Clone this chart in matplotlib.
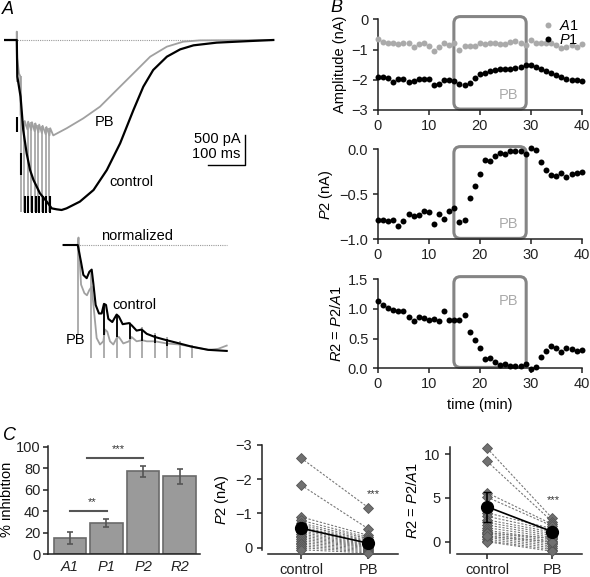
import numpy as np
import matplotlib
matplotlib.use('Agg')
import matplotlib.pyplot as plt
import matplotlib.transforms as mtransforms
from matplotlib.patches import FancyBboxPatch

plt.rcParams['font.family'] = ['Liberation Sans', 'DejaVu Sans']
plt.rcParams['mathtext.fontset'] = 'custom'
plt.rcParams['mathtext.rm'] = 'Liberation Sans'
plt.rcParams['mathtext.it'] = 'Liberation Sans:italic'
plt.rcParams['font.size'] = 10.5
plt.rcParams['axes.linewidth'] = 1.1
plt.rcParams['axes.edgecolor'] = '#222222'
for a in ('xtick', 'ytick'):
    plt.rcParams[a + '.major.size'] = 3.5
    plt.rcParams[a + '.major.width'] = 1.1
    plt.rcParams[a + '.color'] = '#222222'

FS = 10.5

# ---------------- data ----------------
# A: example traces (time in ms, current in pA)
pulse_t = [2, 12, 21, 31, 40, 50, 59, 69, 78, 88]
ctrl_t = [-31, 2, 3.5, 12, 19, 28, 37, 46, 63, 81, 94, 107, 120, 133, 168, 204, 239,
          274, 309, 335, 361, 397, 432, 467, 528, 616, 677]
ctrl_pA = [0, 0, -611, -944, -1500, -1889, -2167, -2333, -2556, -2694, -2806, -2822, -2833,
           -2806, -2694, -2500, -2167, -1722, -1167, -778, -500, -278, -156, -89, -44, -17, 0]
pb_t = [-31, 2, 2, 3, 8, 11, 12, 14, 17, 21, 23, 30, 32, 40, 42, 49, 51, 59, 61, 68, 70,
        78, 80, 88, 90, 98, 133, 177, 221, 265, 309, 353, 397, 440, 484, 677]
pb_pA = [0, 0, 140, -300, -560, -600, -1250, -1300, -1420, -1480, -1350, -1490, -1360, -1500,
         -1370, -1520, -1390, -1540, -1410, -1550, -1430, -1570, -1450, -1590, -1470, -1590,
         -1472, -1306, -1111, -833, -556, -278, -111, -28, -6, 0]
pb_art_top = [140, -600, -1350, -1360, -1370, -1390, -1410, -1430, -1450, -1470]
pb_art_bot = [-700, -2860, -2860, -2860, -2860, -2860, -2860, -2860, -2860, -2860]
ctrl_art_top = [-1280, -1890, -2600, -2600, -2600, -2600, -2600, -2600, -2600, -2600]
ctrl_art_bot = [-1530, -2250, -2880, -2880, -2880, -2880, -2880, -2880, -2880, -2880]

# A lower: normalized traces
npulse_t = [0, 10, 20, 30, 40, 50, 60, 69, 79, 89]
nctrl_t = [-11.6, -0.6, 2.0, 3.8, 6.4, 8.5, 10.3, 11.6, 13.4, 16.0, 18.1, 19.9, 21.5, 23.3,
           26.4, 29.8, 31.6, 34.5, 39.5, 41.5, 45.4, 49.4, 53.3, 59.8, 68.9, 78.8, 88.4,
           101.4, 115.8]
nctrl_a = [0, 0, -0.16, -0.28, -0.31, -0.25, -0.23, -0.36, -0.56, -0.64, -0.64, -0.55, -0.56,
           -0.69, -0.72, -0.65, -0.67, -0.74, -0.73, -0.75, -0.80, -0.79, -0.83, -0.86, -0.89,
           -0.92, -0.95, -0.98, -0.99]
npb_t = [-11.6, -0.6, 0.0, 2.0, 4.6, 6.6, 8.5, 10.3, 12.4, 14.2, 16.8, 19.4, 20.7, 22.5, 24.6,
         27.2, 29.8, 31.6, 35.0, 39.5, 41.5, 45.4, 49.9, 53.3, 59.8, 68.9, 78.8, 88.4, 101.4,
         109.2, 115.8]
npb_a = [0, 0, 0.07, -0.37, -0.45, -0.47, -0.42, -0.39, -0.65, -0.87, -0.93, -0.90, -0.79,
         -0.81, -0.90, -0.93, -0.87, -0.86, -0.92, -0.90, -0.86, -0.90, -0.89, -0.90, -0.90,
         -0.92, -0.93, -0.95, -0.98, -0.97, -0.94]
npb_art_top = [0.0, -0.25, -0.55, -0.65, -0.72, -0.77, -0.82, -0.86, -0.90, -0.93]
npb_art_bot = [-0.84, -1.06, -1.06, -1.06, -1.06, -1.06, -1.06, -1.06, -1.06, -1.06]
nctrl_art_t = [20, 30, 40, 50, 60, 69]
nctrl_art_top = [-0.55, -0.65, -0.73, -0.79, -0.84, -0.88]
nctrl_art_bot = [-0.84, -0.86, -0.88, -0.90, -0.92, -0.94]

# B: time course (min)
time_min = list(range(41))
amp_A1 = [-0.66, -0.74, -0.77, -0.79, -0.83, -0.79, -0.79, -0.90, -0.82, -0.79, -0.88, -1.04,
          -0.93, -0.79, -0.85, -0.77, -1.01, -0.88, -0.88, -0.88, -0.79, -0.83, -0.77, -0.79,
          -0.82, -0.82, -0.74, -0.71, -0.77, -0.85, -0.68, -0.77, -0.77, -0.79, -0.79, -0.85,
          -0.96, -0.90, -0.85, -0.90, -0.83]
amp_P1 = [-1.90, -1.90, -1.95, -2.06, -1.98, -1.96, -2.09, -2.03, -1.97, -1.96, -1.96, -2.18,
          -2.14, -2.01, -2.01, -2.04, -2.15, -2.17, -2.12, -1.93, -1.81, -1.79, -1.71, -1.68,
          -1.63, -1.63, -1.65, -1.62, -1.57, -1.52, -1.52, -1.59, -1.65, -1.71, -1.76, -1.84,
          -1.92, -1.98, -2.01, -2.01, -2.03]
amp_P2 = [-0.78, -0.78, -0.80, -0.78, -0.85, -0.80, -0.72, -0.74, -0.73, -0.68, -0.70, -0.83,
          -0.72, -0.77, -0.68, -0.65, -0.81, -0.78, -0.54, -0.41, -0.27, -0.12, -0.13, -0.07,
          -0.04, -0.05, -0.02, -0.02, -0.02, -0.05, 0.02, -0.01, -0.14, -0.23, -0.29, -0.30,
          -0.26, -0.31, -0.27, -0.26, -0.25]
ratio_R2 = [1.13, 1.07, 1.01, 0.98, 0.97, 0.97, 0.87, 0.80, 0.87, 0.84, 0.81, 0.83, 0.79, 0.97,
            0.81, 0.81, 0.82, 0.89, 0.62, 0.48, 0.35, 0.16, 0.17, 0.10, 0.06, 0.07, 0.04, 0.04,
            0.04, 0.07, -0.02, 0.02, 0.19, 0.30, 0.38, 0.35, 0.28, 0.35, 0.33, 0.30, 0.31]
pb_start, pb_end = 14.9, 29.1

# C: summary
bar_cats = ['A1', 'P1', 'P2', 'R2']
inhib = [15, 29, 77, 72.5]
inhib_sem = [5.4, 4.0, 5.0, 6.8]
pair_cats = ['control', 'PB']
ctrl_p2 = [-2.62, -1.83, -0.90, -0.80, -0.72, -0.66, -0.60, -0.55, -0.50, -0.45, -0.40, -0.35,
           -0.30, -0.25, -0.20, -0.15, -0.10, -0.05, 0.0, 0.06]
pb_p2 = [-1.17, -0.55, -0.36, -0.30, -0.26, -0.22, -0.19, -0.16, -0.13, -0.10, -0.08, -0.06,
         -0.04, -0.02, 0.0, 0.03, 0.06, 0.09, 0.12, 0.15]
p2_mean = [-0.57, -0.13]
p2_sem = [0.14, 0.07]
ctrl_r2 = [10.7, 9.2, 5.6, 5.1, 3.3, 2.9, 2.5, 2.2, 1.9, 1.6, 1.3, 1.1, 0.9, 0.7, 0.5, 0.3, 0.1,
           0.0, 1.0, 0.6]
pb_r2 = [2.7, 2.3, 2.0, 1.8, 1.5, 1.3, 1.1, 0.9, 0.7, 0.5, 0.3, 0.1, -0.1, -0.3, -0.5, -0.7,
         -0.9, -1.1, 0.4, 0.0]
r2_mean = [4.0, 1.15]
r2_sem = [1.7, 0.3]

GRAY = '#a0a0a0'
W, H = 590, 577
fig = plt.figure(figsize=(W / 100, H / 100), dpi=100)


def px_axes(l, t, r, b):
    return fig.add_axes([l / W, 1 - b / H, (r - l) / W, (b - t) / H])


# ---------------- A top ----------------
axA = px_axes(4, 30, 280, 220)
axA.set_xlim(-31.6, 694.7)
axA.set_ylim(-3000, 166.7)
axA.axis('off')
axA.plot([-31, 677], [0, 0], color='#999999', ls=(0, (1, 1)), lw=0.8)
axA.vlines(pulse_t, pb_art_bot, pb_art_top, color=GRAY, lw=1.2)
axA.plot(pb_t, pb_pA, color=GRAY, lw=1.3)
axA.plot(ctrl_t, ctrl_pA, color='k', lw=1.6)
axA.vlines(np.array(pulse_t) + 1.5, ctrl_art_bot, ctrl_art_top, color='k', lw=1.5)
axA.plot([504, 603, 603], [-2083, -2083, -1583], color='k', lw=1.0)
axA.text(590, -1656, '500 pA', ha='right', va='center', fontsize=FS)
axA.text(590, -1900, '100 ms', ha='right', va='center', fontsize=FS)
axA.text(232, -1361, 'PB', ha='center', va='center', fontsize=FS)
axA.text(304, -2361, 'control', ha='center', va='center', fontsize=FS)

# ---------------- A bottom ----------------
axN = px_axes(60, 230, 235, 365)
axN.set_xlim(-14.45, 122.27)
axN.set_ylim(-1.1215, 0.1402)
axN.axis('off')
axN.plot([-11.6, 115.8], [0, 0], color='#999999', ls=(0, (1, 1)), lw=0.8)
axN.vlines(npulse_t, npb_art_bot, npb_art_top, color=GRAY, lw=1.2)
axN.plot(npb_t, npb_a, color=GRAY, lw=1.3)
axN.plot(nctrl_t, nctrl_a, color='k', lw=1.5)
axN.vlines(nctrl_art_t, nctrl_art_bot, nctrl_art_top, color='k', lw=1.3)
axN.text(45.7, 0.084, 'normalized', ha='center', va='center', fontsize=FS)
axN.text(43.4, -0.56, 'control', ha='center', va='center', fontsize=FS)
axN.text(-2.2, -0.89, 'PB', ha='center', va='center', fontsize=FS)

# ---------------- B ----------------
axB1 = px_axes(378, 19.3, 581.7, 110)
axB2 = px_axes(378, 149.3, 581.7, 239.3)
axB3 = px_axes(378, 279.3, 581.7, 368.3)


def pb_box(ax, ytext):
    bb = ax.get_position()
    wpx, hpx = bb.width * W, bb.height * H
    x0, x1 = ax.get_xlim()
    aspect = (wpx / (x1 - x0)) / hpx
    trans = mtransforms.blended_transform_factory(ax.transData, ax.transAxes)
    box = FancyBboxPatch((pb_start, 0.01), pb_end - pb_start, 1.02,
                         boxstyle='round,pad=0,rounding_size=1.3', mutation_aspect=aspect,
                         transform=trans, fill=False, ec='#858585', lw=2.2, clip_on=False,
                         zorder=1)
    ax.add_patch(box)
    ax.text(25.6, ytext, 'PB', transform=trans, ha='center', va='center',
            color='#aaaaaa', fontsize=FS)


for ax in (axB1, axB2, axB3):
    ax.set_xlim(0, 40)
    ax.set_xticks([0, 10, 20, 30, 40])
    for s in ('top', 'right'):
        ax.spines[s].set_visible(False)
    ax.tick_params(axis='x', pad=3)

axB1.set_ylim(-3, 0)
axB1.set_yticks([0, -1, -2, -3])
axB1.set_yticklabels(['0', '\u22121', '\u22122', '\u22123'])
pb_box(axB1, 0.17)
axB1.plot(time_min, amp_A1, 'o', color='#aaaaaa', ms=4.3, mec='none', clip_on=False,
          zorder=3, label=r'$A$1')
axB1.plot(time_min, amp_P1, 'o', color='k', ms=4.3, mec='none', clip_on=False, zorder=3,
          label=r'$P$1')
axB1.legend(loc='upper right', bbox_to_anchor=(1.02, 1.08), frameon=False, handlelength=0.8,
            handletextpad=0.3, labelspacing=0.0, borderpad=0, fontsize=FS)
axB1.set_ylabel('Amplitude (nA)', labelpad=3)

axB2.set_ylim(-1, 0)
axB2.set_yticks([0, -0.5, -1.0])
axB2.set_yticklabels(['0.0', '\u22120.5', '\u22121.0'])
pb_box(axB2, 0.17)
axB2.plot(time_min, amp_P2, 'o', color='k', ms=4.3, mec='none', clip_on=False, zorder=3)
axB2.set_ylabel(r'$P$2 (nA)', labelpad=3)

axB3.set_ylim(0, 1.5)
axB3.set_yticks([0, 0.5, 1.0, 1.5])
axB3.set_yticklabels(['0.0', '0.5', '1.0', '1.5'])
pb_box(axB3, 0.76)
axB3.plot(time_min, ratio_R2, 'o', color='k', ms=4.3, mec='none', clip_on=False, zorder=3)
axB3.set_ylabel(r'$R$2 = $P$2/$A$1', labelpad=3)
axB3.set_xlabel('time (min)', labelpad=5)

# ---------------- C bars ----------------
axC1 = px_axes(48, 445.7, 200, 554)
xb = np.arange(len(bar_cats))
axC1.bar(xb, inhib, width=0.88, color='#9a9a9a', edgecolor='#6a6a6a', lw=1.2, zorder=2)
axC1.errorbar(xb, inhib, yerr=inhib_sem, fmt='none', ecolor='#555555', elinewidth=1.2,
              capsize=2.5, capthick=1.2, zorder=3)
axC1.set_xlim(-0.6, 3.56)
axC1.set_ylim(0, 101)
axC1.set_yticks([0, 20, 40, 60, 80, 100])
axC1.set_xticks(xb)
axC1.set_xticklabels(bar_cats, fontstyle='italic')
axC1.tick_params(axis='x', length=0, pad=4)
axC1.tick_params(axis='y', pad=2)
for s in ('top', 'right'):
    axC1.spines[s].set_visible(False)
axC1.set_ylabel('% inhibition')
axC1.yaxis.set_label_coords(-0.225, 0.5)
axC1.plot([0, 1.02], [40, 40], color='#555555', lw=1.5)
axC1.plot([0.47, 2.01], [89.8, 89.8], color='#555555', lw=1.5)
axC1.text(0.62, 46, '**', ha='center', va='baseline', fontsize=8, color='#333333')
axC1.text(1.32, 95.4, '***', ha='center', va='baseline', fontsize=8, color='#333333')


def paired(ax, c, p, m, e):
    for a, b in zip(c, p):
        ax.plot([0, 1], [a, b], color='#777777', ls=(0, (2, 1.5)), lw=0.8, zorder=2,
                clip_on=False)
    ax.plot(np.zeros(len(c)), c, 'D', ms=5, mfc='#707070', mec='#555555', mew=0.6,
            zorder=3, clip_on=False)
    ax.plot(np.ones(len(p)), p, 'D', ms=5, mfc='#707070', mec='#555555', mew=0.6,
            zorder=3, clip_on=False)
    ax.errorbar([0, 1], m, yerr=e, fmt='-o', color='k', ms=8.5, lw=1.2, elinewidth=1.2,
                capsize=3, zorder=5, clip_on=False)
    ax.set_xticks([0, 1])
    ax.set_xticklabels(pair_cats)
    ax.tick_params(axis='x', pad=3)
    for s in ('top', 'right'):
        ax.spines[s].set_visible(False)


# ---------------- C paired P2 ----------------
axC2 = px_axes(262, 445, 398, 554)
paired(axC2, ctrl_p2, pb_p2, p2_mean, p2_sem)
axC2.set_xlim(-0.58, 1.44)
axC2.set_ylim(0.184, -3)
axC2.set_yticks([0, -1, -2, -3])
axC2.set_yticklabels(['0', '\u22121', '\u22122', '\u22123'])
axC2.spines['left'].set_bounds(-3, 0.07)
axC2.spines['bottom'].set_bounds(-0.49, 1.44)
axC2.set_ylabel(r'$P$2 (nA)', labelpad=3)
axC2.text(1.07, -1.49, '***', ha='center', va='baseline', fontsize=8, color='#333333')

# ---------------- C paired R2 ----------------
axC3 = px_axes(450, 447.3, 582, 554)
paired(axC3, ctrl_r2, pb_r2, r2_mean, r2_sem)
axC3.set_xlim(-0.57, 1.46)
axC3.set_ylim(-1.41, 10.8)
axC3.set_yticks([0, 5, 10])
axC3.spines['left'].set_bounds(-1.3, 10.8)
axC3.spines['bottom'].set_bounds(-0.46, 1.46)
axC3.set_ylabel(r'$R$2 = $P$2/$A$1', labelpad=3)
axC3.text(1.02, 4.46, '***', ha='center', va='baseline', fontsize=8, color='#333333')

# panel letters
fig.text(8 / W, 1 - 10 / H, 'A', fontsize=13, fontstyle='italic', ha='center', va='center')
fig.text(336 / W, 1 - 8 / H, 'B', fontsize=13, fontstyle='italic', ha='center', va='center')
fig.text(9 / W, 1 - 436 / H, 'C', fontsize=13, fontstyle='italic', ha='center', va='center')

fig.savefig('out.png', dpi=100)
